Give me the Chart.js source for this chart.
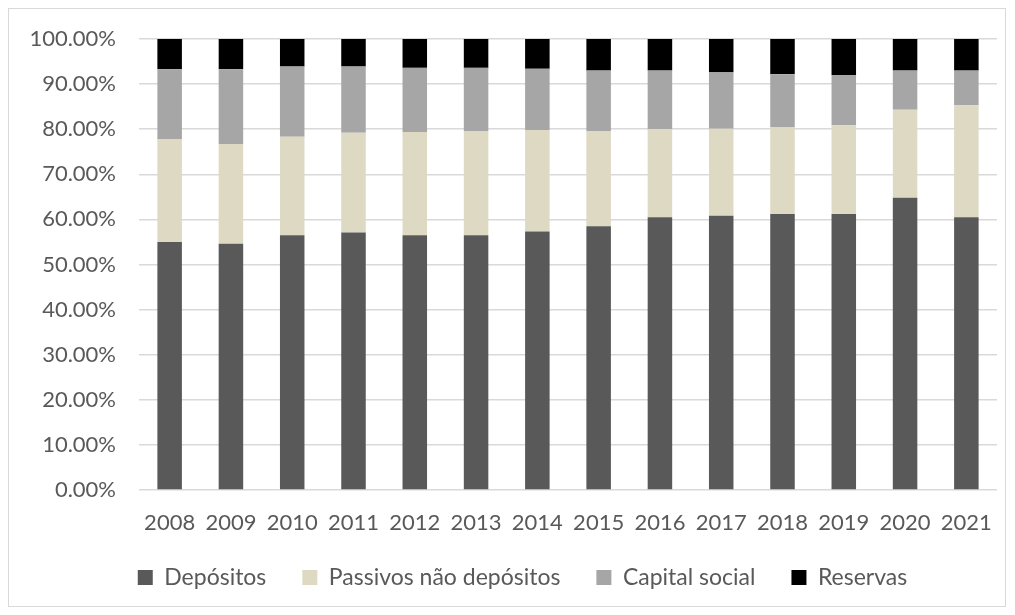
<!DOCTYPE html>
<html>
<head>
<meta charset="utf-8">
<script src="https://cdn.jsdelivr.net/npm/chart.js@4/dist/chart.umd.min.js"></script>
<style>
    html, body { margin: 0; padding: 0; background: #ffffff; }
    #wrap { position: relative; width: 1015px; height: 615px; }
    #frame { position: absolute; left: 8px; top: 8px; width: 996px; height: 597px; border: 1px solid #d9d9d9; }
    canvas { position: absolute; left: 0; top: 0; }
</style>
</head>
<body>
<div id="wrap">
    <div id="frame"></div>
    <canvas id="myChart" width="1015" height="615"></canvas>
</div>
<script>
// Dados do gráfico (em %)
const anos = ['2008', '2009', '2010', '2011', '2012', '2013', '2014', '2015', '2016', '2017', '2018', '2019', '2020', '2021'];
const depositos = [55.0, 54.6, 56.5, 57.1, 56.5, 56.5, 57.3, 58.5, 60.5, 60.8, 61.2, 61.2, 64.8, 60.5];
const passivosNaoDepositos = [22.8, 22.1, 21.8, 22.1, 22.9, 23.1, 22.5, 21.1, 19.5, 19.3, 19.3, 19.7, 19.5, 24.8];
const capitalSocial = [15.5, 16.6, 15.6, 14.7, 14.2, 14.0, 13.6, 13.4, 13.0, 12.5, 11.7, 11.1, 8.7, 7.7];
const reservas = [6.7, 6.7, 6.1, 6.1, 6.4, 6.4, 6.6, 7.0, 7.0, 7.4, 7.8, 8.0, 7.0, 7.0];

const corTexto = '#595959';
const fonte = 'Lato, "Noto Sans", sans-serif';

// Deslocamento da legenda para a direita, como no original
const legendShift = {
    id: 'legendShift',
    afterLayout(chart) {
        const lg = chart.legend;
        if (!lg) return;
        lg.left += 20;
        lg.right += 20;
    }
};

// Formação do gráfico
function renderChart() {
    const ctx = document.getElementById('myChart').getContext('2d');
    const myChart = new Chart(ctx, {
        type: 'bar',
        data: {
            labels: anos,
            datasets: [
                { label: 'Depósitos', data: depositos, backgroundColor: '#595959' },
                { label: 'Passivos não depósitos', data: passivosNaoDepositos, backgroundColor: '#ddd9c3' },
                { label: 'Capital social', data: capitalSocial, backgroundColor: '#a6a6a6' },
                { label: 'Reservas', data: reservas, backgroundColor: '#000000' },
            ]
        },
        options: {
            responsive: false,
            animation: false,
            layout: {
                padding: { left: 8, right: 18, top: 39, bottom: 16 }
            },
            datasets: {
                bar: { barPercentage: 0.4, categoryPercentage: 1.0 }
            },
            scales: {
                x: {
                    stacked: true,
                    afterFit: (scale) => { scale.height = 40; },
                    grid: { display: false },
                    border: { display: false },
                    ticks: {
                        color: corTexto,
                        font: { family: fonte, size: 22 },
                        padding: 12,
                        maxRotation: 0,
                    },
                },
                y: {
                    stacked: true,
                    min: 0,
                    max: 100,
                    afterFit: (scale) => { scale.width = 131; },
                    grid: { color: '#d9d9d9', lineWidth: 1.5, drawTicks: false },
                    border: { display: false },
                    ticks: {
                        stepSize: 10,
                        color: corTexto,
                        font: { family: fonte, size: 22 },
                        padding: 23,
                        callback: (v) => v.toFixed(2) + '%',
                    },
                },
            },
            plugins: {
                legend: {
                    position: 'bottom',
                    labels: {
                        color: corTexto,
                        font: { family: fonte, size: 23 },
                        boxWidth: 15,
                        boxHeight: 15,
                        padding: 36,
                    },
                },
                tooltip: { enabled: false },
            },
        },
        plugins: [legendShift],
    });
}

document.addEventListener('DOMContentLoaded', () => {
    renderChart();
});
</script>
</body>
</html>
